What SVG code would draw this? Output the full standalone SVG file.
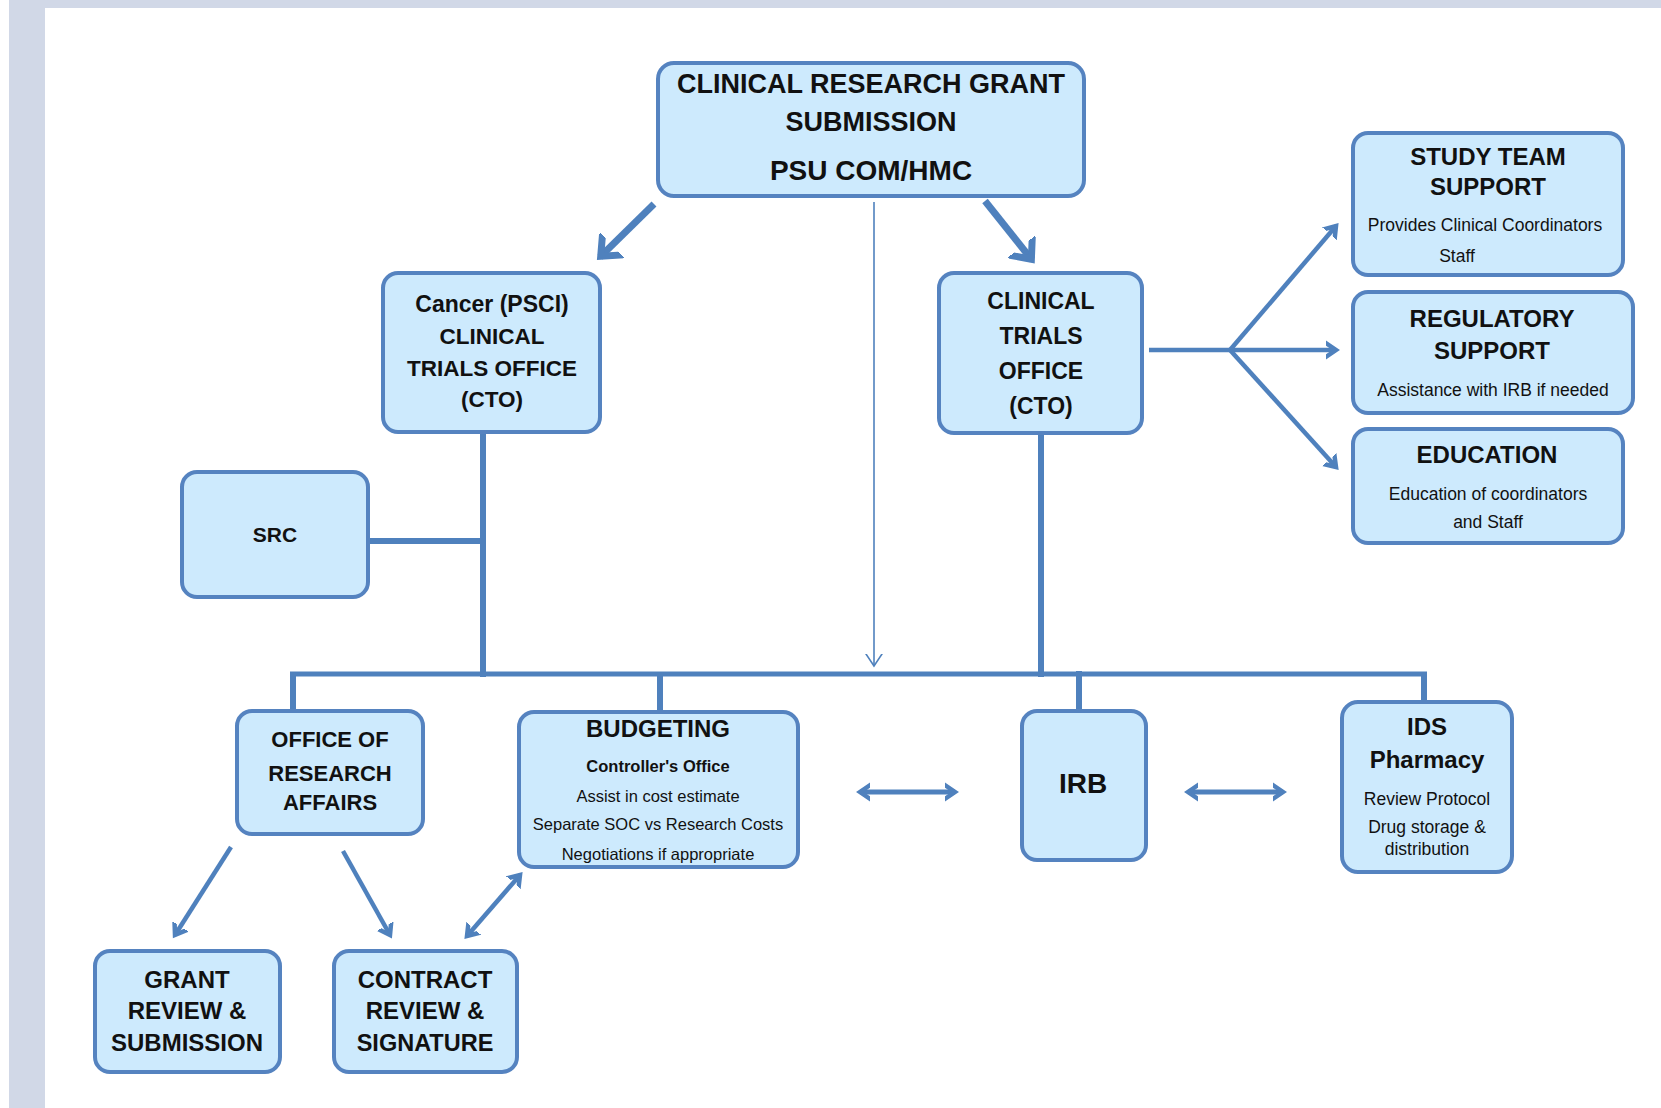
<svg xmlns="http://www.w3.org/2000/svg" width="1661" height="1108" viewBox="0 0 1661 1108">
<defs>
<style>
.box{fill:#CDEAFD;stroke:#5583C0;stroke-width:4}
.t{font-family:"Liberation Sans",Arial,sans-serif;font-weight:bold;fill:#111;text-anchor:middle}
.s{font-family:"Liberation Sans",Arial,sans-serif;fill:#111;text-anchor:middle}
.ln{stroke:#4F81BD;fill:none}
</style>
<marker id="ah" viewBox="0 0 20 20" refX="10" refY="10" markerWidth="20" markerHeight="20" markerUnits="userSpaceOnUse" orient="auto-start-reverse">
<path d="M-6,-1 L10,10 L-6,21" fill="none" stroke="#4F81BD" stroke-width="4.5" stroke-linecap="round" stroke-linejoin="miter"/>
</marker>
<marker id="ahb" viewBox="0 0 34 34" refX="17" refY="17" markerWidth="34" markerHeight="34" markerUnits="userSpaceOnUse" orient="auto">
<path d="M-6,-2 L16,17 L-6,36" fill="none" stroke="#4F81BD" stroke-width="7" stroke-linecap="butt"/>
</marker>
<marker id="aht" viewBox="0 0 24 24" refX="12" refY="12" markerWidth="24" markerHeight="24" markerUnits="userSpaceOnUse" orient="auto">
<path d="M-3,2 L12,12 L-3,22" fill="none" stroke="#4F81BD" stroke-width="1.6"/>
</marker>
</defs>
<rect x="0" y="0" width="1661" height="1108" fill="#FFFFFF"/>
<rect x="9" y="0" width="1652" height="8" fill="#D1D8E7"/>
<rect x="9" y="0" width="36" height="1108" fill="#D1D8E7"/>

<g id="connectors">
<line class="ln" x1="654" y1="204" x2="600" y2="257" stroke-width="7" marker-end="url(#ahb)"/>
<line class="ln" x1="985" y1="201" x2="1032" y2="260" stroke-width="7" marker-end="url(#ahb)"/>
<line class="ln" x1="874" y1="202" x2="874" y2="666" stroke-width="1.6" marker-end="url(#aht)"/>
<line class="ln" x1="483" y1="432" x2="483" y2="677" stroke-width="6"/>
<line class="ln" x1="368" y1="541" x2="486" y2="541" stroke-width="6"/>
<line class="ln" x1="1041" y1="433" x2="1041" y2="677" stroke-width="6"/>
<line class="ln" x1="290" y1="674" x2="1427" y2="674" stroke-width="5"/>
<line class="ln" x1="293" y1="672" x2="293" y2="712" stroke-width="6"/>
<line class="ln" x1="660" y1="672" x2="660" y2="712" stroke-width="6"/>
<line class="ln" x1="1079" y1="671" x2="1079" y2="711" stroke-width="6"/>
<line class="ln" x1="1424" y1="672" x2="1424" y2="702" stroke-width="6"/>
<polyline class="ln" points="1149,350 1230,350" stroke-width="4.5"/>
<line class="ln" x1="1230" y1="350" x2="1336" y2="226" stroke-width="4.5" marker-end="url(#ah)"/>
<line class="ln" x1="1230" y1="350" x2="1336" y2="350" stroke-width="4.5" marker-end="url(#ah)"/>
<line class="ln" x1="1230" y1="350" x2="1336" y2="467" stroke-width="4.5" marker-end="url(#ah)"/>
<line class="ln" x1="860" y1="792" x2="955" y2="792" stroke-width="5" marker-start="url(#ah)" marker-end="url(#ah)"/>
<line class="ln" x1="1188" y1="792" x2="1283" y2="792" stroke-width="5" marker-start="url(#ah)" marker-end="url(#ah)"/>
<line class="ln" x1="231" y1="847" x2="175" y2="935" stroke-width="4.5" marker-end="url(#ah)"/>
<line class="ln" x1="343" y1="851" x2="390" y2="935" stroke-width="4.5" marker-end="url(#ah)"/>
<line class="ln" x1="467" y1="936" x2="520" y2="875" stroke-width="4.5" marker-start="url(#ah)" marker-end="url(#ah)"/>
</g>

<g id="node-top">
<rect class="box" x="658" y="63" width="426" height="133" rx="16"/>
<text class="t" x="871" y="93" font-size="27">CLINICAL RESEARCH GRANT</text>
<text class="t" x="871" y="131" font-size="27">SUBMISSION</text>
<text class="t" x="871" y="180" font-size="28">PSU COM/HMC</text>
</g>

<g id="node-cancer-cto">
<rect class="box" x="383" y="273" width="217" height="159" rx="15"/>
<text class="t" x="492" y="312" font-size="23">Cancer (PSCI)</text>
<text class="t" x="492" y="344" font-size="22.5">CLINICAL</text>
<text class="t" x="492" y="376" font-size="22.5">TRIALS OFFICE</text>
<text class="t" x="492" y="407" font-size="22.5">(CTO)</text>
</g>

<g id="node-cto">
<rect class="box" x="939" y="273" width="203" height="160" rx="15"/>
<text class="t" x="1041" y="309" font-size="23">CLINICAL</text>
<text class="t" x="1041" y="344" font-size="23">TRIALS</text>
<text class="t" x="1041" y="379" font-size="23">OFFICE</text>
<text class="t" x="1041" y="414" font-size="23">(CTO)</text>
</g>

<g id="node-study-team">
<rect class="box" x="1353" y="133" width="270" height="142" rx="15"/>
<text class="t" x="1488" y="165" font-size="24">STUDY TEAM</text>
<text class="t" x="1488" y="195" font-size="24">SUPPORT</text>
<text class="s" x="1485" y="231" font-size="17.5">Provides Clinical Coordinators</text>
<text class="s" x="1457" y="262" font-size="17.5">Staff</text>
</g>

<g id="node-regulatory">
<rect class="box" x="1353" y="292" width="280" height="121" rx="15"/>
<text class="t" x="1492" y="327" font-size="24">REGULATORY</text>
<text class="t" x="1492" y="359" font-size="24">SUPPORT</text>
<text class="s" x="1493" y="396" font-size="17.5">Assistance with IRB if needed</text>
</g>

<g id="node-education">
<rect class="box" x="1353" y="429" width="270" height="114" rx="15"/>
<text class="t" x="1487" y="463" font-size="24">EDUCATION</text>
<text class="s" x="1488" y="500" font-size="17.5">Education of coordinators</text>
<text class="s" x="1488" y="528" font-size="17.5">and Staff</text>
</g>

<g id="node-src">
<rect class="box" x="182" y="472" width="186" height="125" rx="15"/>
<text class="t" x="275" y="542" font-size="21">SRC</text>
</g>

<g id="node-ora">
<rect class="box" x="237" y="711" width="186" height="123" rx="15"/>
<text class="t" x="330" y="747" font-size="22">OFFICE OF</text>
<text class="t" x="330" y="781" font-size="22">RESEARCH</text>
<text class="t" x="330" y="810" font-size="22">AFFAIRS</text>
</g>

<g id="node-budgeting">
<rect class="box" x="519" y="712" width="279" height="155" rx="15"/>
<text class="t" x="658" y="737" font-size="24">BUDGETING</text>
<text class="t" x="658" y="772" font-size="16.5">Controller's Office</text>
<text class="s" x="658" y="802" font-size="16.5">Assist in cost estimate</text>
<text class="s" x="658" y="830" font-size="16.5">Separate SOC vs Research Costs</text>
<text class="s" x="658" y="860" font-size="16.5">Negotiations if appropriate</text>
</g>

<g id="node-irb">
<rect class="box" x="1022" y="711" width="124" height="149" rx="15"/>
<text class="t" x="1083" y="793" font-size="28">IRB</text>
</g>

<g id="node-ids">
<rect class="box" x="1342" y="702" width="170" height="170" rx="16"/>
<text class="t" x="1427" y="735" font-size="24">IDS</text>
<text class="t" x="1427" y="768" font-size="24">Pharmacy</text>
<text class="s" x="1427" y="805" font-size="17.5">Review Protocol</text>
<text class="s" x="1427" y="833" font-size="17.5">Drug storage &amp;</text>
<text class="s" x="1427" y="855" font-size="17.5">distribution</text>
</g>

<g id="node-grant">
<rect class="box" x="95" y="951" width="185" height="121" rx="15"/>
<text class="t" x="187" y="988" font-size="24">GRANT</text>
<text class="t" x="187" y="1019" font-size="24">REVIEW &amp;</text>
<text class="t" x="187" y="1051" font-size="24">SUBMISSION</text>
</g>

<g id="node-contract">
<rect class="box" x="334" y="951" width="183" height="121" rx="15"/>
<text class="t" x="425" y="988" font-size="24">CONTRACT</text>
<text class="t" x="425" y="1019" font-size="24">REVIEW &amp;</text>
<text class="t" x="425" y="1051" font-size="23.5">SIGNATURE</text>
</g>
</svg>
